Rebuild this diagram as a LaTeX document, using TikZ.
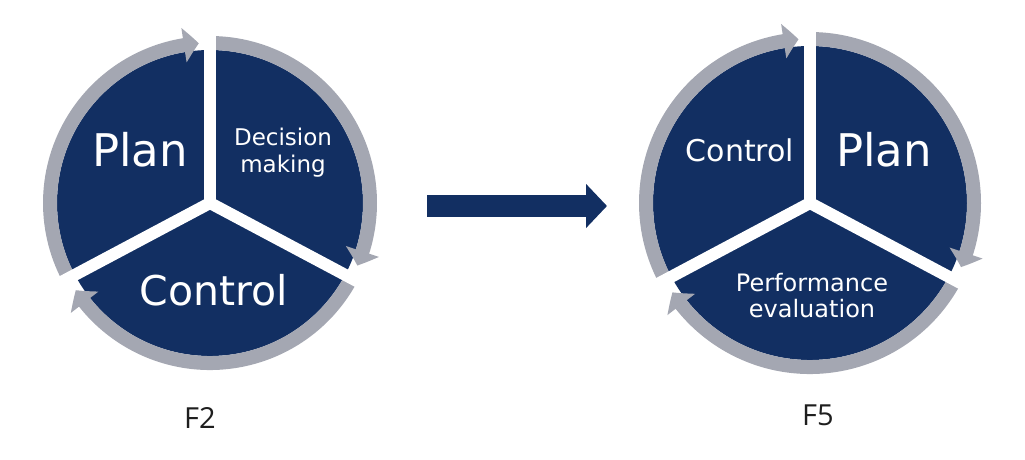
\documentclass[tikz,border=0pt]{standalone}
\usepackage{fontspec}
\setmainfont{DejaVu Sans}
\setsansfont{Open Sans}
\usetikzlibrary{arrows.meta,bending}
\definecolor{navy}{RGB}{18,47,98}
\definecolor{ringgray}{RGB}{164,167,178}
\definecolor{labelink}{RGB}{30,30,30}

\begin{document}
\begin{tikzpicture}[x=1pt,y=1pt,
  disc/.style={fill=navy},
  ring/.style={draw=ringgray,line width=14pt,-{Triangle[width=34pt,length=15pt,bend]}},
  gap/.style={draw=white,line width=12pt,line cap=round},
  word/.style={text=white,align=center,inner sep=0pt},
  caption/.style={font=\sffamily\fontsize{29}{29}\selectfont,text=labelink,inner sep=0pt},
  bigarrow/.style={draw=navy,line width=22pt,-{Triangle[width=43pt,length=21pt]}}
]
\useasboundingbox (0,0) rectangle (1025,459);

% left cycle (F2)
\coordinate (lc) at (210,256);
\fill[disc] (lc) circle[radius=153];
\draw[ring] ([shift={(208:160)}]lc) arc[start angle=208,end angle=94,radius=160];
\draw[ring] ([shift={(90:160)}]lc) arc[start angle=90,end angle=-23,radius=160];
\draw[ring] ([shift={(-28:160)}]lc) arc[start angle=-28,end angle=-147,radius=160];
\draw[gap] (lc) -- ++(90:180);
\draw[gap] (lc) -- ++(-28:180);
\draw[gap] (lc) -- ++(208:180);
\node[word,font=\fontsize{45}{45}\selectfont] (lplan) at (140,309) {Plan};
\node[word,font=\fontsize{23}{27}\selectfont] (ldecide) at (283,306) {Decision\\making};
\node[word,font=\fontsize{41}{41}\selectfont] (lcontrol) at (214,169) {Control};
\node[caption] (f2) at (200,41) {F2};

% right cycle (F5)
\coordinate (rc) at (810,256);
\fill[disc] (rc) circle[radius=157];
\draw[ring] ([shift={(208:164)}]rc) arc[start angle=208,end angle=94,radius=164];
\draw[ring] ([shift={(90:164)}]rc) arc[start angle=90,end angle=-23,radius=164];
\draw[ring] ([shift={(-28:164)}]rc) arc[start angle=-28,end angle=-147,radius=164];
\draw[gap] (rc) -- ++(90:185);
\draw[gap] (rc) -- ++(-28:185);
\draw[gap] (rc) -- ++(208:185);
\node[word,font=\fontsize{30}{30}\selectfont] (rcontrol) at (740,309) {Control};
\node[word,font=\fontsize{45}{45}\selectfont] (rplan) at (884,309) {Plan};
\node[word,font=\fontsize{24}{26}\selectfont] (reval) at (812,163) {Performance\\evaluation};
\node[caption] (f5) at (818,44) {F5};

% transition arrow
\coordinate (shaftstart) at (427,253);
\coordinate (shaftend) at (607,253);
\draw[bigarrow] (shaftstart) -- (shaftend);
\end{tikzpicture}
\end{document}
